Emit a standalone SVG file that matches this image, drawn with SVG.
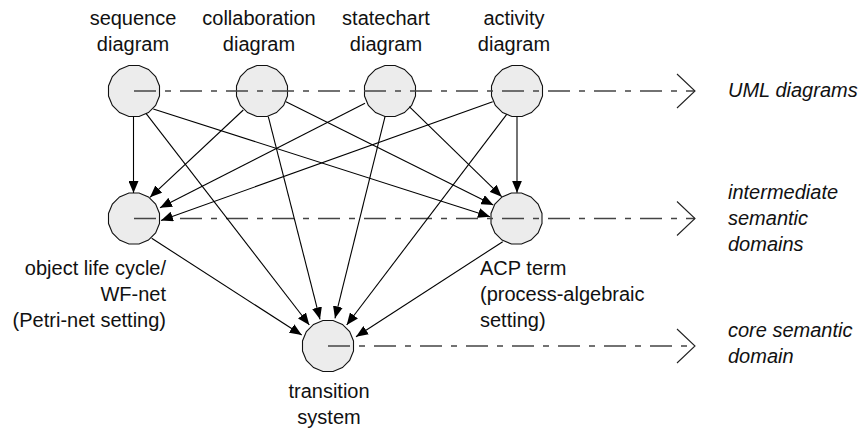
<svg xmlns="http://www.w3.org/2000/svg" xmlns:xlink="http://www.w3.org/1999/xlink" width="862" height="429" viewBox="0 0 862 429">
  <style>
    text { font-family: "Liberation Sans", Arial, sans-serif; font-size: 20px; fill: #111; }
    .mid { text-anchor: middle; }
    .end { text-anchor: end; }
    .lvl { font-style: italic; }
    .node-shape { fill: #ececec; stroke: #111; stroke-width: 1.1; }
    .edge { fill: none; stroke: #000; stroke-width: 1.1; marker-end: url(#arrow); }
    .level { fill: none; stroke: #444; stroke-width: 1.6; stroke-dasharray: 22 9 6 9; }
    .chevron { fill: none; stroke: #222; stroke-width: 1.1; }
  </style>
  <defs>
    <polygon id="nodeShape" class="node-shape" points="25.5,5.07 21.62,14.45 14.45,21.62 5.07,25.5 -5.07,25.5 -14.45,21.62 -21.62,14.45 -25.5,5.07 -25.5,-5.07 -21.62,-14.45 -14.45,-21.62 -5.07,-25.5 5.07,-25.5 14.45,-21.62 21.62,-14.45 25.5,-5.07"/>
    <marker id="arrow" markerUnits="userSpaceOnUse" markerWidth="12" markerHeight="10" refX="12" refY="5" orient="auto" viewBox="0 0 12 10">
      <path d="M0,0 L12,5 L0,10 z" fill="#000"/>
    </marker>
  </defs>

  <!-- UML diagram nodes -->
  <g id="sequence-diagram">
    <use xlink:href="#nodeShape" x="134" y="91"/>
    <text class="mid" x="133" y="25">sequence</text>
    <text class="mid" x="133" y="51">diagram</text>
  </g>
  <g id="collaboration-diagram">
    <use xlink:href="#nodeShape" x="262" y="91"/>
    <text class="mid" x="259" y="25">collaboration</text>
    <text class="mid" x="259" y="51">diagram</text>
  </g>
  <g id="statechart-diagram">
    <use xlink:href="#nodeShape" x="390" y="91"/>
    <text class="mid" x="386" y="25">statechart</text>
    <text class="mid" x="386" y="51">diagram</text>
  </g>
  <g id="activity-diagram">
    <use xlink:href="#nodeShape" x="517" y="91"/>
    <text class="mid" x="514" y="25">activity</text>
    <text class="mid" x="514" y="51">diagram</text>
  </g>

  <!-- intermediate semantic domains -->
  <g id="object-life-cycle">
    <use xlink:href="#nodeShape" x="134" y="218.5"/>
    <text class="end" x="166" y="275">object life cycle/</text>
    <text class="end" x="166" y="301">WF-net</text>
    <text class="end" x="166" y="327">(Petri-net setting)</text>
  </g>
  <g id="acp-term">
    <use xlink:href="#nodeShape" x="516.5" y="218.5"/>
    <text x="480" y="275">ACP term</text>
    <text x="480" y="301">(process-algebraic</text>
    <text x="480" y="327">setting)</text>
  </g>

  <!-- core semantic domain -->
  <g id="transition-system">
    <use xlink:href="#nodeShape" x="328" y="346"/>
    <text class="mid" x="329" y="398">transition</text>
    <text class="mid" x="329" y="424">system</text>
  </g>

  <!-- level lines with open arrowheads and their captions -->
  <g id="levels">
    <line class="level" x1="134" y1="91" x2="695" y2="91"/>
    <polyline class="chevron" points="677,74 695,91 677,108"/>
    <text class="lvl" x="728" y="97">UML diagrams</text>

    <line class="level" x1="134" y1="218.5" x2="695" y2="218.5"/>
    <polyline class="chevron" points="677,201.5 695,218.5 677,235.5"/>
    <text class="lvl" x="728" y="199">intermediate</text>
    <text class="lvl" x="728" y="225">semantic</text>
    <text class="lvl" x="728" y="251">domains</text>

    <line class="level" x1="328" y1="346" x2="695" y2="346"/>
    <polyline class="chevron" points="677,329 695,346 677,363"/>
    <text class="lvl" x="728" y="337">core semantic</text>
    <text class="lvl" x="728" y="363">domain</text>
  </g>

  <!-- mappings between domains -->
  <g id="connectors">
    <line class="edge" x1="133.5" y1="116.5" x2="133.5" y2="193"/>
    <line class="edge" x1="146" y1="113.3" x2="309.3" y2="325"/>
    <line class="edge" x1="153.3" y1="109" x2="490" y2="216.7"/>

    <line class="edge" x1="243.3" y1="110" x2="150" y2="197.3"/>
    <line class="edge" x1="268.3" y1="116.7" x2="320" y2="319.3"/>
    <line class="edge" x1="286" y1="101.7" x2="493.3" y2="205"/>

    <line class="edge" x1="365" y1="103.3" x2="160" y2="207.7"/>
    <line class="edge" x1="385" y1="116.7" x2="335" y2="318.3"/>
    <line class="edge" x1="409.3" y1="106.7" x2="501.7" y2="196.7"/>

    <line class="edge" x1="492.7" y1="101.7" x2="161" y2="220.5"/>
    <line class="edge" x1="506.7" y1="114.3" x2="346.7" y2="325"/>
    <line class="edge" x1="517" y1="116.7" x2="517" y2="192.7"/>

    <line class="edge" x1="151.7" y1="238.3" x2="301.7" y2="335"/>
    <line class="edge" x1="502.7" y1="241.7" x2="356" y2="336.7"/>
  </g>
</svg>
